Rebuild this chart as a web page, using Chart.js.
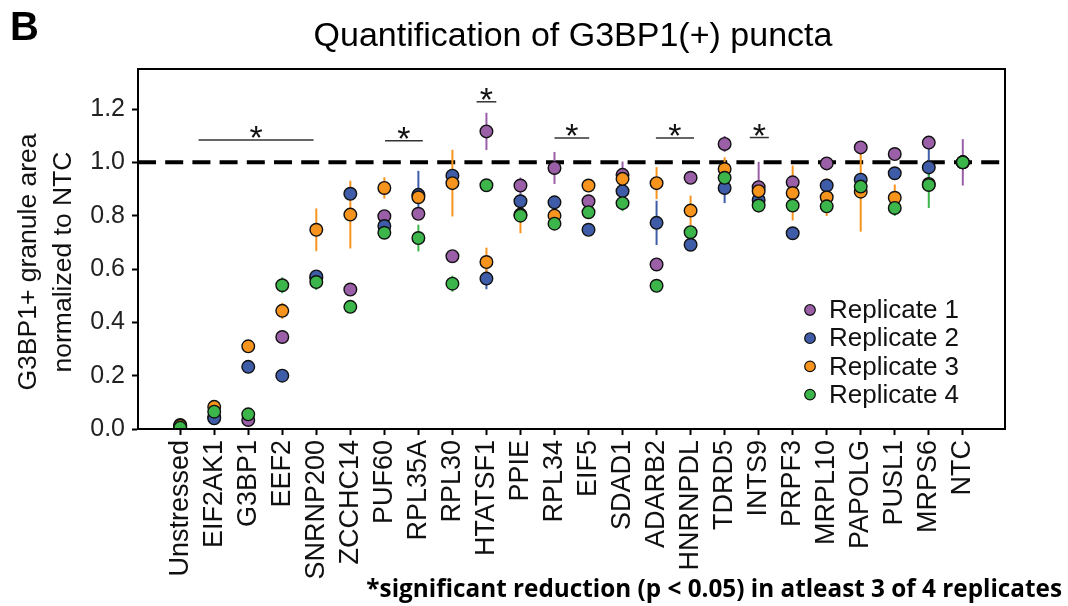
<!DOCTYPE html>
<html><head><meta charset="utf-8">
<script src="https://cdn.jsdelivr.net/npm/chart.js@4"></script>
<style>html,body{margin:0;padding:0;background:#fff}#wrap{width:1068px;height:606px;position:relative}</style>
</head><body><div id="wrap"><canvas id="c" width="1068" height="606"></canvas></div>
<script>
const categories = ['Unstressed','EIF2AK1','G3BP1','EEF2','SNRNP200','ZCCHC14','PUF60','RPL35A','RPL30','HTATSF1','PPIE','RPL34','EIF5','SDAD1','ADARB2','HNRNPDL','TDRD5','INTS9','PRPF3','MRPL10','PAPOLG','PUSL1','MRPS6','NTC'];

const rep1 = [0.010,0.045,0.034,0.345,0.565,0.523,0.798,0.807,0.648,1.116,0.913,0.979,0.854,0.953,0.617,0.942,1.069,0.907,0.925,0.996,1.056,1.031,1.074,1.000];
const rep1Err = [0.005,0.010,0.010,0.010,0.010,0.015,0.010,0.020,0.020,0.070,0.030,0.060,0.010,0.050,0.010,0.010,0.030,0.095,0.020,0.010,0.020,0.010,0.010,0.087];

const rep2 = [0.015,0.040,0.233,0.200,0.572,0.882,0.761,0.878,0.950,0.564,0.854,0.850,0.747,0.892,0.773,0.691,0.904,0.859,0.734,0.913,0.935,0.959,0.981,1.000];
const rep2Err = [0.005,0.010,0.010,0.010,0.015,0.010,0.010,0.090,0.010,0.040,0.030,0.010,0.010,0.030,0.083,0.010,0.057,0.045,0.010,0.020,0.010,0.010,0.093,0.010];

const rep3 = [0.012,0.083,0.310,0.443,0.747,0.804,0.904,0.869,0.922,0.626,0.804,0.800,0.913,0.938,0.922,0.819,0.975,0.892,0.885,0.869,0.890,0.867,0.919,1.000];
const rep3Err = [0.005,0.025,0.010,0.030,0.080,0.127,0.040,0.020,0.125,0.054,0.070,0.020,0.020,0.040,0.060,0.056,0.044,0.020,0.103,0.070,0.150,0.050,0.020,0.010];

const rep4 = [0.005,0.065,0.055,0.539,0.551,0.458,0.736,0.716,0.545,0.914,0.800,0.770,0.813,0.847,0.537,0.738,0.942,0.838,0.838,0.835,0.909,0.829,0.915,1.000];
const rep4Err = [0.005,0.010,0.010,0.030,0.030,0.010,0.010,0.050,0.030,0.010,0.010,0.010,0.010,0.030,0.020,0.010,0.010,0.010,0.010,0.010,0.010,0.030,0.086,0.010];

const seriesNames = ['Replicate 1','Replicate 2','Replicate 3','Replicate 4'];
const seriesValues = [rep1, rep2, rep3, rep4];
const seriesErrors = [rep1Err, rep2Err, rep3Err, rep4Err];
const seriesColors = ['#9b5fa8','#3e5ca8','#f7941d','#3cb54a'];

const yTickValues = [0.0,0.2,0.4,0.6,0.8,1.0,1.2];
const referenceLevel = 1.0;

// significance brackets (category-index span, height in data units)
const sigStart = [0.54, 6.02, 8.71, 11.0, 13.98, 16.74];
const sigEnd   = [3.92, 7.13, 9.29, 12.02, 15.10, 17.30];
const sigLevel = [1.084, 1.081, 1.227, 1.091, 1.091, 1.093];

const titleText = 'Quantification of G3BP1(+) puncta';
const yTitleLines = ['G3BP1+ granule area','normalized to NTC'];
const footnoteText = '*significant reduction (p < 0.05) in atleast 3 of 4 replicates';
const panelLetter = 'B';

const FONT = '"Liberation Sans", Arial, Helvetica, sans-serif';

const datasets = seriesNames.map((name, s) => ({
  label: name,
  data: seriesValues[s].map((v, i) => ({x: i, y: v})),
  backgroundColor: seriesColors[s],
  borderColor: '#111',
  borderWidth: 1.4,
  pointRadius: 6.3,
  pointHoverRadius: 6.3,
  order: 4 - s
}));

const deco = {
  id: 'deco',
  beforeDatasetsDraw(chart) {
    const {ctx, chartArea: a, scales: {x, y}} = chart;
    ctx.save();
    ctx.strokeStyle = '#000';
    ctx.lineWidth = 4;
    ctx.setLineDash([18, 9.2]);
    const yr = y.getPixelForValue(referenceLevel);
    ctx.beginPath(); ctx.moveTo(a.left, yr); ctx.lineTo(a.right, yr); ctx.stroke();
    ctx.setLineDash([]);
    ctx.lineWidth = 2;
    seriesValues.forEach((vals, s) => {
      ctx.strokeStyle = seriesColors[s];
      vals.forEach((v, i) => {
        const e = seriesErrors[s][i];
        const px = x.getPixelForValue(i);
        ctx.beginPath();
        ctx.moveTo(px, y.getPixelForValue(v - e));
        ctx.lineTo(px, y.getPixelForValue(v + e));
        ctx.stroke();
      });
    });
    ctx.restore();
  },
  afterDraw(chart) {
    const {ctx, chartArea: a, scales: {x, y}} = chart;
    ctx.save();
    ctx.strokeStyle = '#000'; ctx.lineWidth = 2;
    ctx.strokeRect(a.left, a.top, a.right - a.left, a.bottom - a.top);
    // significance brackets
    ctx.strokeStyle = '#333'; ctx.lineWidth = 1.5;
    ctx.fillStyle = '#111';
    ctx.font = '34px ' + FONT;
    ctx.textAlign = 'center'; ctx.textBaseline = 'alphabetic';
    sigStart.forEach((st, k) => {
      const x0 = x.getPixelForValue(st), x1 = x.getPixelForValue(sigEnd[k]);
      const yy = y.getPixelForValue(sigLevel[k]);
      ctx.beginPath(); ctx.moveTo(x0, yy); ctx.lineTo(x1, yy); ctx.stroke();
      ctx.fillText('*', (x0 + x1) / 2, yy + 9);
    });
    // legend
    ctx.textAlign = 'left'; ctx.textBaseline = 'middle';
    ctx.font = '26px ' + FONT;
    seriesNames.forEach((n, s) => {
      const ly = 310 + s * 28.2;
      ctx.beginPath(); ctx.arc(810, ly, 5.3, 0, Math.PI * 2);
      ctx.fillStyle = seriesColors[s]; ctx.fill();
      ctx.strokeStyle = '#111'; ctx.lineWidth = 1.2; ctx.stroke();
      ctx.fillStyle = '#111';
      ctx.fillText(n, 829, ly + 1);
    });
    // title
    ctx.textAlign = 'center'; ctx.textBaseline = 'alphabetic';
    ctx.fillStyle = '#000';
    ctx.font = '34px ' + FONT;
    ctx.fillText(titleText, 573, 46);
    // panel letter
    ctx.textAlign = 'left';
    ctx.font = 'bold 40px ' + FONT;
    ctx.fillText(panelLetter, 10, 40);
    // y title
    ctx.font = '26.5px ' + FONT;
    ctx.fillStyle = '#111';
    ctx.textAlign = 'center';
    [36, 70.5].forEach((bx, k) => {
      ctx.save(); ctx.translate(bx, 262); ctx.rotate(-Math.PI / 2);
      ctx.fillText(yTitleLines[k], 0, 0); ctx.restore();
    });
    // footnote
    ctx.font = 'bold 24.3px "Open Sans", sans-serif';
    ctx.fillStyle = '#000';
    ctx.textAlign = 'right';
    ctx.fillText(footnoteText, 1062, 597);
    ctx.restore();
  }
};

new Chart(document.getElementById('c'), {
  type: 'scatter',
  data: {datasets},
  options: {
    responsive: false,
    animation: false,
    devicePixelRatio: 1,
    layout: {padding: {top: 69, right: 63, left: 0, bottom: 0}},
    plugins: {legend: {display: false}, tooltip: {enabled: false}, title: {display: false}},
    scales: {
      x: {
        type: 'linear', min: -1.24, max: 24.24,
        afterBuildTicks: s => { s.ticks = categories.map((c, i) => ({value: i})); },
        afterFit: s => { s.height = 177; },
        ticks: {autoSkip: false, maxRotation: 90, minRotation: 90, padding: 5,
          color: '#111', font: {family: FONT, size: 27},
          callback: v => categories[Math.round(v)]},
        grid: {drawOnChartArea: false, drawTicks: true, tickLength: 6, tickWidth: 2, tickColor: '#000'},
        border: {display: true, color: '#000', width: 2}
      },
      y: {
        min: 0, max: 1.35,
        afterBuildTicks: s => { s.ticks = yTickValues.map(v => ({value: v})); },
        afterFit: s => { s.width = 138; },
        ticks: {padding: 7, color: '#222', font: {family: FONT, size: 25},
          callback: v => v.toFixed(1)},
        grid: {drawOnChartArea: false, drawTicks: true, tickLength: 6, tickWidth: 2, tickColor: '#000'},
        border: {display: true, color: '#000', width: 2}
      }
    }
  },
  plugins: [deco]
});
</script>
</body></html>
